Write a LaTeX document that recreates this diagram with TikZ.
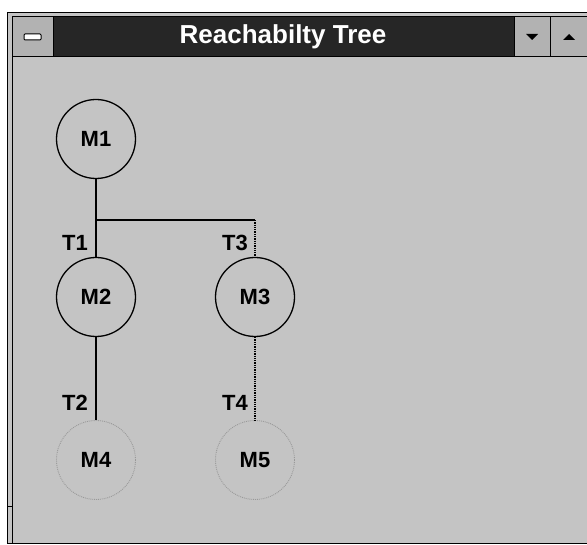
\documentclass[tikz,border=0pt]{standalone}
\usepackage{fontspec}
\setmainfont{Liberation Sans}
\usetikzlibrary{positioning}

\begin{document}
\begin{tikzpicture}[x=1pt, y=-1pt, every node/.style={font=\bfseries\fontsize{22}{22}\selectfont},
        state/.style={draw, circle, line width=1.3pt, minimum size=79pt, inner sep=0pt},
        ghost/.style={draw=black!40, densely dotted, circle, line width=0.9pt, minimum size=79pt, inner sep=0pt},
        firing/.style={anchor=east, inner sep=1pt},
        arc/.style={line width=1.1pt},
        hatch/.style={line width=1.6pt, dash pattern=on 1.3pt off 1pt},
        button/.style={draw, line width=1pt, fill=black!30}]
        \useasboundingbox (0,0) rectangle (587,545);
        \fill[white] (0,0) rectangle (587,545);

        % window frame and title bar
        \fill[black!23] (7,13) rectangle (587,543);
        \fill[black!85] (53,17) rectangle (514,57);
        \draw[line width=1pt] (587,13) -- (7,13) -- (7,543) -- (587,543);
        \draw[line width=1pt] (587,17) -- (12,17) -- (12,543);
        \draw[line width=1pt] (7,507) -- (12,507);
        \draw[line width=1pt] (12,57) -- (587,57);
        \draw[button] (12,17) rectangle (53,57);
        \draw[line width=1pt, fill=white, rounded corners=1pt] (24,34) rectangle (41,40);
        \draw[button] (514,17) rectangle (550,57);
        \draw[button] (550,17) rectangle (589,57);
        \fill (526,34) -- (538,34) -- (532,40) -- cycle;
        \fill (563,40) -- (575,40) -- (569,34) -- cycle;
        \node[text=white, font=\bfseries\fontsize{26}{26}\selectfont] (title) at (283,37) {Reachabilty Tree};

        \node[state] (m1) at (96,139) {M1};
        \node[state] (m2) at (96,297) {M2};
        \node[state] (m3) at (255,297) {M3};
        \node[ghost] (m4) at (96,460) {M4};
        \node[ghost] (m5) at (255,460) {M5};
        \coordinate (split) at (96,220);

        \draw[arc] (m1) -- (m2);
        \draw[arc] (split) -- (split -| m3);
        \draw[hatch] (split -| m3) -- (m3);
        \draw[arc] (m2) -- (m4.north);
        \draw[hatch] (m3) -- (m5.north);

        \node[firing] (t1) at (89,243) {T1};
        \node[firing] (t3) at (249,243) {T3};
        \node[firing] (t2) at (89,403) {T2};
        \node[firing] (t4) at (249,403) {T4};
    \end{tikzpicture}
\end{document}
